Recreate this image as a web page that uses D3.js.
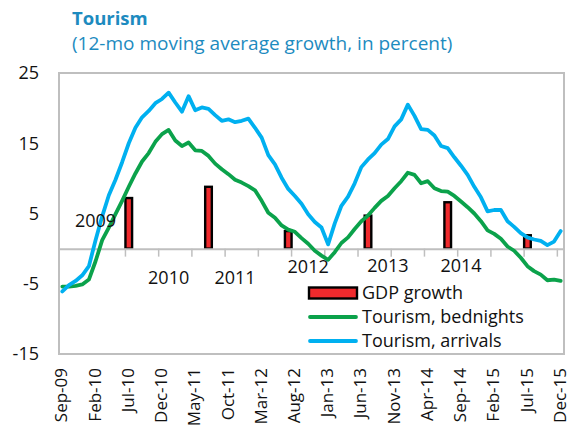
<!DOCTYPE html>
<html>
<head>
<meta charset="utf-8">
<script src="https://cdn.jsdelivr.net/npm/d3@7"></script>
<style>
  html, body { margin: 0; padding: 0; background: #fff; }
  svg { display: block; font-family: "Open Sans", "Noto Sans", sans-serif; }
</style>
</head>
<body>
<svg id="chart" width="571" height="433"></svg>
<script>
// ---------- DATA ----------
const months = (() => {
  const names = ["Jan","Feb","Mar","Apr","May","Jun","Jul","Aug","Sep","Oct","Nov","Dec"];
  const out = [];
  let y = 2009, m = 8;
  while (y < 2016) {
    out.push(names[m] + "-" + String(y).slice(2));
    m++; if (m === 12) { m = 0; y++; }
  }
  return out; // Sep-09 .. Dec-15
})();

const arrivals = [
  -6.1, -5.2, -4.6, -3.8, -2.5, 1.2, 4.6, 7.6, 9.8, 12.3,
  15.0, 17.2, 18.7, 19.6, 20.7, 21.3, 22.2, 20.8, 19.5, 21.7,
  19.7, 20.1, 19.9, 19.0, 18.2, 18.4, 18.0, 18.2, 18.5, 17.2,
  15.8, 13.3, 12.0, 10.1, 8.5, 7.5, 6.4, 4.9, 3.8, 3.0,
  0.6, 3.6, 6.1, 7.4, 9.3, 11.6, 12.7, 13.6, 14.8, 15.6,
  17.4, 18.4, 20.5, 18.9, 17.0, 16.9, 16.1, 14.6, 14.3, 13.0,
  11.8, 10.5, 8.8, 7.3, 5.3, 5.5, 5.5, 3.9, 3.1, 2.2,
  1.6, 1.3, 1.1, 0.5, 1.0, 2.5
];

const bednights = [
  -5.4, -5.4, -5.3, -5.1, -4.4, -1.8, 1.2, 3.0, 4.9, 6.8,
  8.8, 10.7, 12.4, 13.6, 15.2, 16.3, 16.9, 15.4, 14.6, 15.1,
  14.0, 13.9, 13.2, 12.1, 11.3, 10.6, 9.8, 9.4, 8.9, 8.3,
  6.8, 5.1, 4.4, 3.3, 2.7, 2.4, 1.5, 0.7, -0.3, -1.0,
  -1.6, -0.5, 0.8, 1.6, 2.8, 3.9, 4.7, 5.8, 6.8, 7.5,
  8.6, 9.6, 10.8, 10.5, 9.3, 9.6, 8.6, 8.2, 8.1, 7.5,
  6.7, 5.9, 5.0, 3.9, 2.6, 2.1, 1.4, 0.3, -0.3, -1.3,
  -2.5, -3.2, -3.7, -4.5, -4.4, -4.6
];

const gdpMonths = ["Jul-10", "Jul-11", "Jul-12", "Jul-13", "Jul-14", "Jul-15"];
const gdpValues = [7.2, 8.8, 2.5, 4.7, 6.6, 1.9];

const yearLabels = ["2009", "2010", "2011", "2012", "2013", "2014"];
const yearLabelMonths = ["Feb-10", "Jan-11", "Nov-11", "Oct-12", "Oct-13", "Sep-14"];
const yearLabelValues = [3.1, -5.1, -5.1, -3.5, -3.3, -3.3];

const yTicks = [25, 15, 5, -5, -15];
const xTickEvery = 5;

const seriesNames = ["GDP growth", "Tourism, bednights", "Tourism, arrivals"];

const titleText = "Tourism";
const subtitleText = "(12-mo moving average growth, in percent)";

// ---------- STYLE ----------
const C = {
  title: "#1d8bbf",
  frame: "#bfbfbf",
  red: "#ef2a2d",
  green: "#0ba24b",
  blue: "#00b0f0",
  text: "#111"
};

const plot = { left: 59, right: 564, top: 73, bottom: 354 };
const svg = d3.select("#chart");

const x = d3.scaleBand().domain(months).range([plot.left, plot.right]).padding(0);
const bw = x.bandwidth();
const xc = m => x(m) + bw / 2;
const y = d3.scaleLinear().domain([-15, 25]).range([plot.bottom, plot.top]);

// title
svg.append("text").attr("x", 72).attr("y", 25)
  .attr("font-size", 18.5).attr("font-weight", 700).attr("fill", C.title)
  .text(titleText);
svg.append("text").attr("x", 72).attr("y", 50)
  .attr("font-size", 19).attr("fill", C.title)
  .text(subtitleText);

// frame
svg.append("rect")
  .attr("x", plot.left).attr("y", plot.top)
  .attr("width", plot.right - plot.left).attr("height", plot.bottom - plot.top)
  .attr("fill", "none").attr("stroke", C.frame).attr("stroke-width", 2);

// y labels
svg.append("g").selectAll("text").data(yTicks).join("text")
  .attr("x", 39).attr("y", d => y(d)).attr("dy", "0.35em")
  .attr("text-anchor", "end").attr("font-size", 18).attr("fill", C.text)
  .text(d => d);

// bars
const gdp = gdpMonths.map((m, i) => ({ m, v: gdpValues[i] }));
svg.append("g").selectAll("rect").data(gdp).join("rect")
  .attr("x", d => x(d.m))
  .attr("width", bw)
  .attr("y", d => y(Math.max(0, d.v)))
  .attr("height", d => Math.abs(y(d.v) - y(0)))
  .attr("fill", C.red).attr("stroke", "#000").attr("stroke-width", 2.4);

// x axis at zero
const xAxis = d3.axisBottom(x)
  .tickValues(months.filter((d, i) => i % xTickEvery === 0))
  .tickSize(0).tickFormat("");
const gx = svg.append("g").attr("transform", `translate(0,${y(0)})`).call(xAxis);
gx.select(".domain").attr("stroke", C.frame).attr("stroke-width", 2);
// tick marks at category boundaries
const tickPos = months.filter((d, i) => i % xTickEvery === 0).map(m => x(m));
svg.append("g").selectAll("line").data(tickPos).join("line")
  .attr("x1", d => d).attr("x2", d => d)
  .attr("y1", y(0)).attr("y2", y(0) + 8)
  .attr("stroke", C.frame).attr("stroke-width", 1.5);

// lines
const line = d3.line().x((d, i) => xc(months[i])).y(d => y(d)).curve(d3.curveLinear);
svg.append("path").datum(bednights).attr("d", line)
  .attr("fill", "none").attr("stroke", C.green).attr("stroke-width", 3.8)
  .attr("stroke-linejoin", "round").attr("stroke-linecap", "round");
svg.append("path").datum(arrivals).attr("d", line)
  .attr("fill", "none").attr("stroke", C.blue).attr("stroke-width", 3.8)
  .attr("stroke-linejoin", "round").attr("stroke-linecap", "round");

// year labels
svg.append("g").selectAll("text").data(yearLabels).join("text")
  .attr("x", (d, i) => xc(yearLabelMonths[i]))
  .attr("y", (d, i) => y(yearLabelValues[i]))
  .attr("text-anchor", "middle").attr("font-size", 18).attr("fill", C.text)
  .text(d => d);

// x labels (rotated)
svg.append("g").selectAll("text").data(months.filter((d, i) => i % xTickEvery === 0)).join("text")
  .attr("transform", d => `translate(${xc(d)},368) rotate(-90)`)
  .attr("dy", "0.3em")
  .attr("text-anchor", "end").attr("font-size", 17).attr("fill", C.text)
  .text(d => d);

// legend
const lg = svg.append("g");
const lx = 309, lw = 48;
const rows = [293, 317, 341];
lg.append("rect").attr("x", lx).attr("y", 287.5).attr("width", lw).attr("height", 11)
  .attr("fill", C.red).attr("stroke", "#000").attr("stroke-width", 2.4);
lg.append("line").attr("x1", lx + 1).attr("x2", lx + lw - 1).attr("y1", rows[1]).attr("y2", rows[1])
  .attr("stroke", C.green).attr("stroke-width", 3.8).attr("stroke-linecap", "round");
lg.append("line").attr("x1", lx + 1).attr("x2", lx + lw - 1).attr("y1", rows[2]).attr("y2", rows[2])
  .attr("stroke", C.blue).attr("stroke-width", 3.8).attr("stroke-linecap", "round");
lg.selectAll("text.lt").data(seriesNames).join("text").attr("class", "lt")
  .attr("x", 362).attr("y", (d, i) => rows[i]).attr("dy", "0.35em")
  .attr("font-size", 18).attr("fill", C.text)
  .text(d => d);
</script>
</body>
</html>
